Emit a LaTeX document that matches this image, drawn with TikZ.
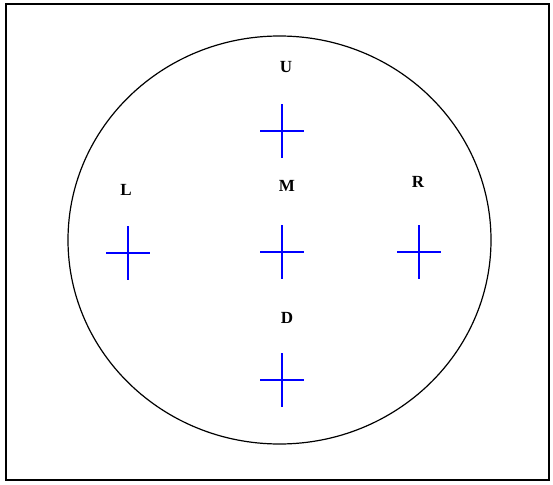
\documentclass[tikz,border=0pt]{standalone}
\usepackage{fontspec}
\setmainfont{Liberation Serif}
\definecolor{markBlue}{HTML}{0000FF}
\begin{document}
\begin{tikzpicture}[x=1pt,y=-1pt,line cap=butt,line join=miter]
\useasboundingbox[fill=white] (0,0) rectangle (553,484);
\tikzset{frame/.style={draw=black,line width=1.6pt},field/.style={draw=black,line width=1.2pt},plus/.style={draw=markBlue,line width=1.5pt},tag/.style={font=\bfseries\fontsize{17}{20}\selectfont,text=black,inner sep=0pt}}
\path[frame] (6,4) rectangle (549,480);
\path[field] (279.5,240) ellipse (211.5 and 204);
\foreach \nm/\px/\py in {U/282/131,L/128/253,M/282/252,R/419/252,D/282/380}{
  \coordinate (mark\nm) at (\px,\py);
  \draw[plus] (\px-22,\py) -- (\px+22,\py) (\px,\py-27) -- (\px,\py+27);
}
\node[tag] (tagU) at (286,67) {U}; \node[tag] (tagL) at (126,190) {L}; \node[tag] (tagM) at (287,186) {M};
\node[tag] (tagR) at (418,182) {R}; \node[tag] (tagD) at (287,318) {D};
\end{tikzpicture}
\end{document}
